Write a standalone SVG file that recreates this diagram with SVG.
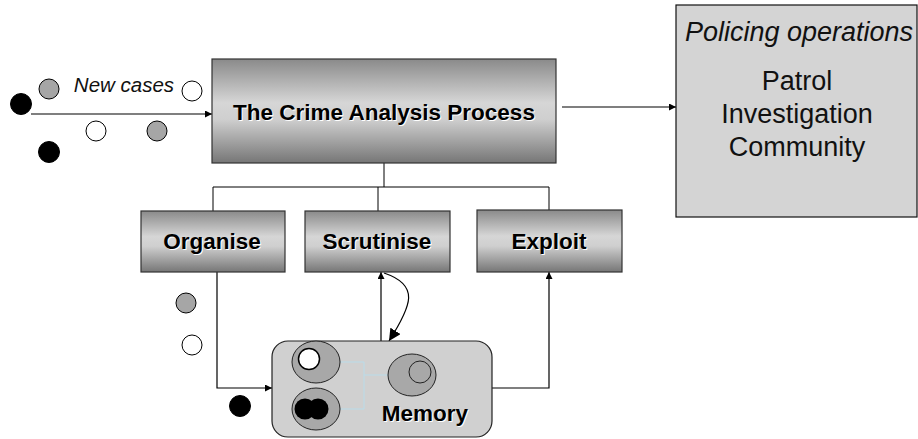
<svg xmlns="http://www.w3.org/2000/svg" width="918" height="439" viewBox="0 0 918 439">
  <defs>
    <linearGradient id="boxShade" x1="0" y1="0" x2="0" y2="1">
      <stop offset="0" stop-color="#8a8a8a"/>
      <stop offset="0.42" stop-color="#d6d6d6"/>
      <stop offset="0.58" stop-color="#cfcfcf"/>
      <stop offset="1" stop-color="#767676"/>
    </linearGradient>
    <marker id="arrow" viewBox="0 0 10 10" refX="10" refY="5" markerWidth="7" markerHeight="7" markerUnits="userSpaceOnUse" orient="auto">
      <path d="M0,0 L10,5 L0,10 Z" fill="#000"/>
    </marker>
    <marker id="arrowBig" viewBox="0 0 10 10" refX="10" refY="5" markerWidth="12" markerHeight="12" markerUnits="userSpaceOnUse" orient="auto">
      <path d="M0,0 L10,5 L0,10 Z" fill="#000"/>
    </marker>
  </defs>
  <style>
    .box { fill: url(#boxShade); stroke: #333; stroke-width: 1.2; }
    .label { font-family: "Liberation Sans", Arial, sans-serif; font-weight: bold; text-anchor: middle; }
    .shadow { fill: #fff; }
    .ink { fill: #000; }
    .wire { fill: none; stroke: #000; stroke-width: 1.2; }
    .tree { fill: none; stroke: #000; stroke-width: 1; }
    .dot { stroke: #000; stroke-width: 1; }
    .black { fill: #000; }
    .grey { fill: #a6a6a6; }
    .white { fill: #fff; }
    .plain { font-family: "Liberation Sans", Arial, sans-serif; font-size: 27px; text-anchor: middle; fill: #111; }
    .link { fill: none; stroke: #b9dcea; stroke-width: 1; }
  </style>

  <!-- connectors -->
  <g id="connectors">
    <line class="wire" x1="31" y1="114" x2="212" y2="114" marker-end="url(#arrow)"/>
    <line class="wire" x1="562" y1="107" x2="676" y2="107" marker-end="url(#arrow)"/>
    <path class="tree" d="M384,163 V187 M213,211 V187 H549 V210 M378,187 V211"/>
    <path class="wire" d="M217,272 V388 H272" marker-end="url(#arrow)"/>
    <line class="wire" x1="381" y1="341" x2="381" y2="272" marker-end="url(#arrow)"/>
    <path class="wire" d="M384,273 C420,285 412,305 389,341" marker-end="url(#arrowBig)"/>
    <path class="wire" d="M492,388 H549 V272" marker-end="url(#arrow)"/>
  </g>

  <!-- incoming cases -->
  <g id="new-cases">
    <circle class="dot black" cx="21" cy="104" r="10.5"/>
    <circle class="dot grey" cx="49" cy="89" r="10"/>
    <circle class="dot white" cx="192" cy="91" r="10"/>
    <circle class="dot white" cx="96" cy="131" r="10"/>
    <circle class="dot grey" cx="157" cy="131" r="10"/>
    <circle class="dot black" cx="49" cy="152" r="10.5"/>
    <text x="124" y="92" font-family="Liberation Sans, Arial, sans-serif" font-size="20.5" font-style="italic" text-anchor="middle" fill="#111">New cases</text>
  </g>

  <g id="process">
    <rect class="box" x="212" y="59" width="344" height="104"/>
    <text class="label shadow" x="385" y="121" font-size="22.5">The Crime Analysis Process</text>
    <text class="label ink" x="384" y="120" font-size="22.5">The Crime Analysis Process</text>
  </g>

  <g id="policing">
    <rect x="676" y="5" width="241" height="212" fill="#d4d4d4" stroke="#111" stroke-width="1.2"/>
    <text class="plain" x="799" y="41" font-style="italic">Policing operations</text>
    <text class="plain" x="797" y="90">Patrol</text>
    <text class="plain" x="797" y="123">Investigation</text>
    <text class="plain" x="797" y="156">Community</text>
  </g>

  <g id="organise">
    <rect class="box" x="141" y="211" width="144" height="61"/>
    <text class="label shadow" x="213" y="250" font-size="22.5">Organise</text>
    <text class="label ink" x="212" y="249" font-size="22.5">Organise</text>
  </g>

  <g id="scrutinise">
    <rect class="box" x="305" y="211" width="145" height="61"/>
    <text class="label shadow" x="378" y="250" font-size="22.5">Scrutinise</text>
    <text class="label ink" x="377" y="249" font-size="22.5">Scrutinise</text>
  </g>

  <g id="exploit">
    <rect class="box" x="477" y="210" width="145" height="62"/>
    <text class="label shadow" x="550" y="250" font-size="22.5">Exploit</text>
    <text class="label ink" x="549" y="249" font-size="22.5">Exploit</text>
  </g>

  <!-- cases leaving the organise stage -->
  <g id="organised-cases">
    <circle class="dot grey" cx="186" cy="303" r="10"/>
    <circle class="dot white" cx="192" cy="345" r="10"/>
    <circle class="dot black" cx="240" cy="406" r="10.5"/>
  </g>

  <g id="memory">
    <rect x="272" y="341" width="220" height="96" rx="16" ry="16" fill="#d0d0d0" stroke="#222" stroke-width="1.2"/>
    <path class="link" d="M340,362 H364 V409 H340 M364,375 H388"/>
    <ellipse cx="316" cy="362" rx="24" ry="21" fill="#a8a8a8" stroke="#222" stroke-width="1"/>
    <circle cx="309" cy="359" r="10.5" fill="#fff" stroke="#000" stroke-width="1.5"/>
    <ellipse cx="316" cy="409" rx="24" ry="21" fill="#a8a8a8" stroke="#222" stroke-width="1"/>
    <circle cx="305" cy="409" r="10.5" fill="#000"/>
    <circle cx="318" cy="409" r="10.5" fill="#000"/>
    <ellipse cx="412" cy="375" rx="24" ry="21" fill="#a8a8a8" stroke="#222" stroke-width="1"/>
    <circle cx="420" cy="372" r="11" fill="#a8a8a8" stroke="#222" stroke-width="1"/>
    <text class="label shadow" x="426" y="422" font-size="22.5">Memory</text>
    <text class="label ink" x="425" y="421" font-size="22.5">Memory</text>
  </g>
</svg>
